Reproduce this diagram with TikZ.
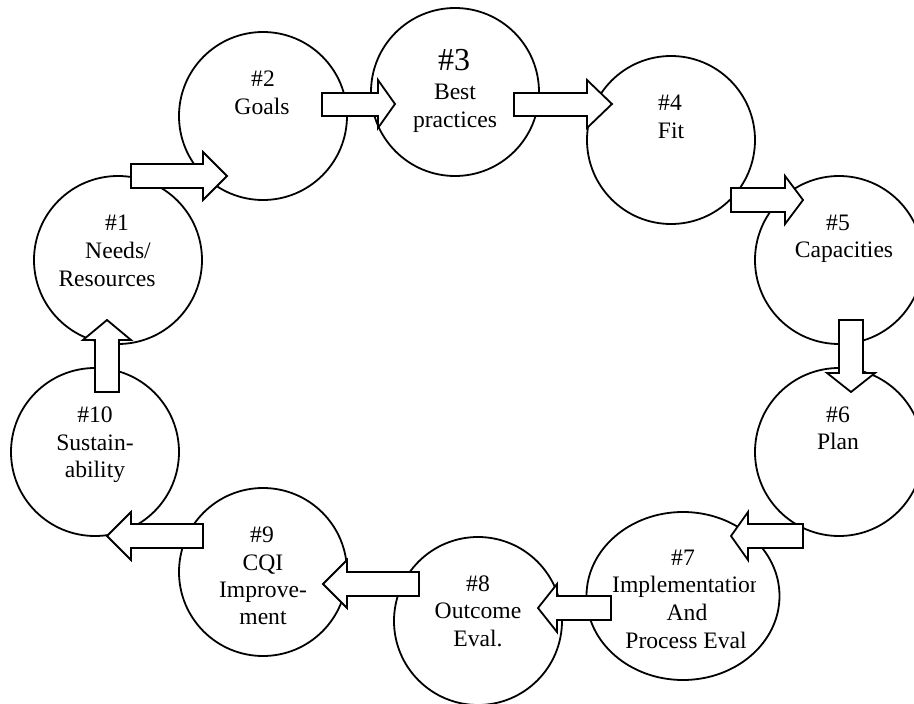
\documentclass[tikz,border=0pt]{standalone}
\usepackage{fontspec}
\setmainfont{Liberation Serif}
\usetikzlibrary{shapes.geometric}
\begin{document}
\begin{tikzpicture}[x=1pt,y=-1pt,
  circ/.style={draw, line width=1.8pt, fill=white, circle, minimum size=168pt, inner sep=0pt},
  ell/.style={draw, line width=1.8pt, fill=white, ellipse, minimum width=193pt, minimum height=168pt, inner sep=0pt},
  barrow/.style={draw, line width=1.8pt, fill=white, line join=miter},
  lbl/.style={anchor=base, inner sep=0pt, font=\fontsize{23.6}{28}\selectfont},
  big/.style={anchor=base, inner sep=0pt, font=\fontsize{32}{36}\selectfont}]
\useasboundingbox (0,0) rectangle (914,704);
\clip (0,0) rectangle (914,704);
% circles
\node[circ] (c1) at (118,260) {};
\node[circ] (c2) at (263,116) {};
\node[circ] (c3) at (455,92) {};
\node[circ] (c4) at (671,140) {};
\node[circ] (c5) at (839,260) {};
\node[circ] (c6) at (839,452) {};
\node[ell]  (c7) at (683,596) {};
\node[circ] (c8) at (478,621) {};
\node[circ] (c9) at (263,572) {};
\node[circ] (c10) at (95,452) {};
% block arrows
% 1 -> 2
\draw[barrow] (131,164) -- (203,164) -- (203,152) -- (227,176) -- (203,200) -- (203,188) -- (131,188) -- cycle;
% 2 -> 3
\draw[barrow] (322,93) -- (378,93) -- (378,80) -- (395,104) -- (378,128) -- (378,116) -- (322,116) -- cycle;
% 3 -> 4
\draw[barrow] (514,93) -- (587,93) -- (587,80) -- (612,104) -- (587,128) -- (587,116) -- (514,116) -- cycle;
% 4 -> 5
\draw[barrow] (731,188) -- (785,188) -- (785,176) -- (803,200) -- (785,224) -- (785,212) -- (731,212) -- cycle;
% 5 -> 6 (down)
\draw[barrow] (839,320) -- (839,373) -- (827,373) -- (851,392) -- (875,373) -- (863,373) -- (863,320) -- cycle;
% 6 -> 7 (left)
\draw[barrow] (803,524) -- (748,524) -- (748,512) -- (731,536) -- (748,560) -- (748,548) -- (803,548) -- cycle;
% 7 -> 8
\draw[barrow] (611,596) -- (557,596) -- (557,584) -- (538,608) -- (557,632) -- (557,620) -- (611,620) -- cycle;
% 8 -> 9
\draw[barrow] (419,572) -- (347,572) -- (347,560) -- (323,584) -- (347,608) -- (347,596) -- (419,596) -- cycle;
% 9 -> 10
\draw[barrow] (203,524) -- (131,524) -- (131,512) -- (107,536) -- (131,560) -- (131,548) -- (203,548) -- cycle;
% 10 -> 1 (up)
\draw[barrow] (95,392) -- (95,340) -- (83,340) -- (107,320) -- (131,340) -- (119,340) -- (119,392) -- cycle;
% labels
\node[lbl] (t1a) at (117,230) {\#1};
\node[lbl] (t1b) at (118,258) {Needs/};
\node[lbl] (t1c) at (107,286) {Resources};
\node[lbl] (t2a) at (263,86) {\#2};
\node[lbl] (t2b) at (262,114) {Goals};
\node[big] (t3a) at (454,70) {\#3};
\node[lbl] (t3b) at (455,99) {Best};
\node[lbl] (t3c) at (455,127) {practices};
\node[lbl] (t4a) at (670,110) {\#4};
\node[lbl] (t4b) at (671,138) {Fit};
\node[lbl] (t5a) at (838,230) {\#5};
\node[lbl] (t5b) at (844,257) {Capacities};
\node[lbl] (t6a) at (838,422) {\#6};
\node[lbl] (t6b) at (838,449) {Plan};
\node[lbl] (t7a) at (683,565) {\#7};
\begin{scope}
\clip (600,560) rectangle (755,600);
\node[lbl, anchor=base west] (t7b) at (612,592) {Implementation};
\end{scope}
\node[lbl] (t7c) at (687,620) {And};
\node[lbl] (t7d) at (686,648) {Process Eval};
\node[lbl] (t8a) at (478,591) {\#8};
\node[lbl] (t8b) at (478,618) {Outcome};
\node[lbl] (t8c) at (478,646) {Eval.};
\node[lbl] (t9a) at (262,542) {\#9};
\node[lbl] (t9b) at (263,570) {CQI};
\node[lbl] (t9c) at (263,597) {Improve-};
\node[lbl] (t9d) at (263,624) {ment};
\node[lbl] (t10a) at (95,422) {\#10};
\node[lbl] (t10b) at (95,450) {Sustain-};
\node[lbl] (t10c) at (95,477) {ability};
\end{tikzpicture}
\end{document}
